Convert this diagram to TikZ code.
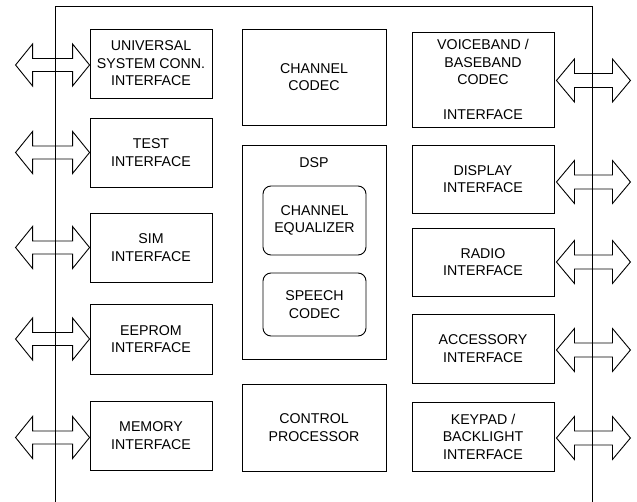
\documentclass[tikz,border=0pt]{standalone}
\usepackage{fontspec}
\setmainfont{Liberation Sans}
\begin{document}
\begin{tikzpicture}[x=1pt,y=-1pt,
  blk/.style={draw, line width=0.9pt, rectangle, align=center, inner sep=0pt,
    font=\fontsize{14.2}{17.5}\selectfont},
  rblk/.style={blk, rounded corners=8pt},
  dbl/.style={draw, line width=0.9pt, line join=miter}]
\useasboundingbox (0,0) rectangle (637,502);
% frame
\draw[line width=0.9pt] (55,502) -- (55,6) -- (592,6) -- (592,502);
% left column
\node[blk, minimum width=122pt, minimum height=69pt] (usci) at (151,63.5) {UNIVERSAL\\SYSTEM CONN.\\INTERFACE};
\node[blk, minimum width=122pt, minimum height=69pt] (test) at (151,152.5) {TEST\\INTERFACE};
\node[blk, minimum width=122pt, minimum height=69pt] (sim) at (151,247.5) {SIM\\INTERFACE};
\node[blk, minimum width=122pt, minimum height=70pt] (eeprom) at (151,339) {EEPROM\\INTERFACE};
\node[blk, minimum width=122pt, minimum height=69pt] (mem) at (151,435.5) {MEMORY\\INTERFACE};
% middle column
\node[blk, minimum width=144pt, minimum height=96pt] (codec) at (314,77) {CHANNEL\\CODEC};
\node[blk, minimum width=144pt, minimum height=214pt] (dsp) at (314,252) {};
\node[font=\fontsize{14.2}{17.5}\selectfont, anchor=north] (dsplabel) at ([yshift=-10pt]dsp.north) {DSP};
\node[rblk, minimum width=103pt, minimum height=69pt] (eq) at (314.5,220.5) {CHANNEL\\EQUALIZER};
\node[rblk, minimum width=103pt, minimum height=63pt] (speech) at (314.5,304.5) {SPEECH\\CODEC};
\node[blk, minimum width=144pt, minimum height=87pt] (ctrl) at (314,427.5) {CONTROL\\PROCESSOR};
% right column
\node[blk, minimum width=142pt, minimum height=95pt] (voice) at (483,79.5) {VOICEBAND /\\BASEBAND\\CODEC\\[17.5pt]INTERFACE};
\node[blk, minimum width=142pt, minimum height=68pt] (disp) at (483,179) {DISPLAY\\INTERFACE};
\node[blk, minimum width=142pt, minimum height=68pt] (radio) at (483,262) {RADIO\\INTERFACE};
\node[blk, minimum width=142pt, minimum height=69pt] (acc) at (483,348.5) {ACCESSORY\\INTERFACE};
\node[blk, minimum width=142pt, minimum height=69pt] (key) at (483,436.5) {KEYPAD /\\BACKLIGHT\\INTERFACE};
% left double arrows
\foreach \b/\dy in {usci/-1.5, test/0, sim/0, eeprom/0, mem/-2}{
  \draw[dbl, shift={(\b.west)}, yshift=\dy] (0,0) -- (-17,-21) -- (-17,-6.5) -- (-57,-6.5) -- (-57,-21) -- (-74,0)
    -- (-57,21) -- (-57,6.5) -- (-17,6.5) -- (-17,21) -- cycle;
}
% right double arrows
\foreach \b/\dy in {voice/-1, disp/-3, radio/0, acc/-1.5, key/-1.5}{
  \draw[dbl, shift={(\b.east)}, yshift=\dy] (2,0) -- (20,-21.5) -- (20,-7) -- (58,-7) -- (58,-21.5) -- (76,0)
    -- (58,21.5) -- (58,7) -- (20,7) -- (20,21.5) -- cycle;
}
\end{tikzpicture}
\end{document}
